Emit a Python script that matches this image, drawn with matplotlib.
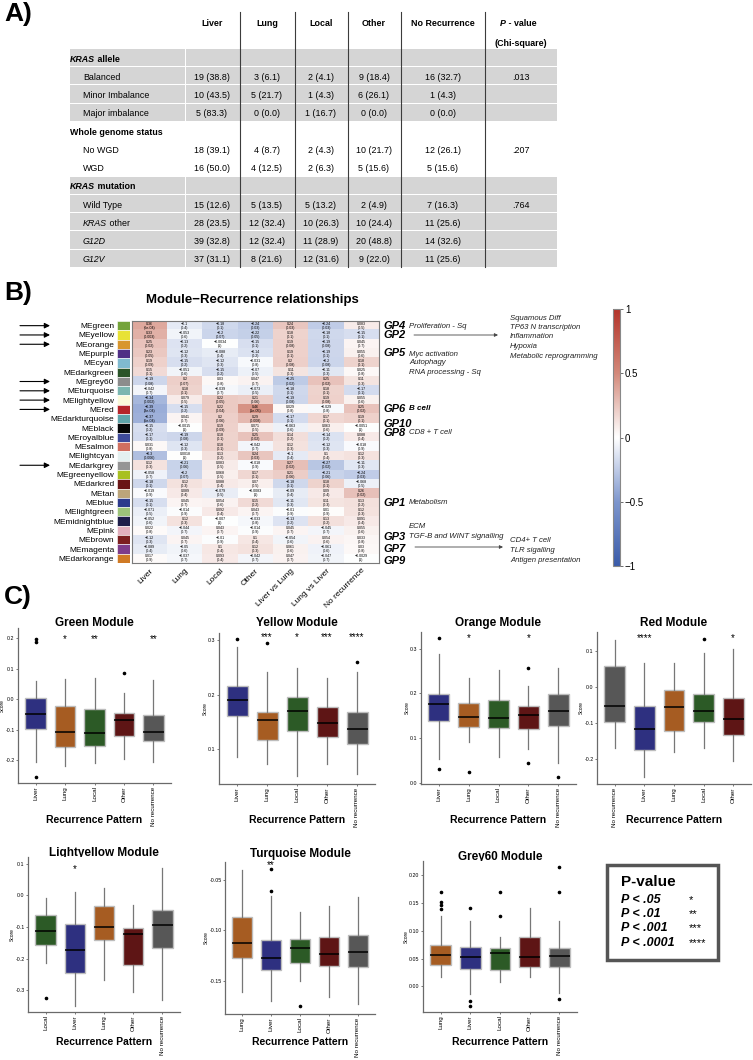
import numpy as np
import matplotlib
matplotlib.use('Agg')
import matplotlib.pyplot as plt
from matplotlib import transforms
from matplotlib.colors import LinearSegmentedColormap, Normalize
from matplotlib.cm import ScalarMappable
from matplotlib.patches import Rectangle

plt.rcParams['font.family'] = ['Liberation Sans', 'DejaVu Sans']

# ---------------- A) table ----------------
tab_cols = ['Liver', 'Lung', 'Local', 'Other', 'No Recurrence']
groups = ['KRAS allele', 'Whole genome status', 'KRAS mutation']
group_sizes = [3, 2, 4]
group_p = ['.013', '.207', '.764']
tab_rows = ['Balanced', 'Minor Imbalance', 'Major imbalance', 'No WGD', 'WGD',
            'Wild Type', 'KRAS other', 'G12D', 'G12V']
tab_n = [[19, 3, 2, 9, 16], [10, 5, 1, 6, 1], [5, 0, 1, 0, 0],
         [18, 4, 2, 10, 12], [16, 4, 2, 5, 5],
         [15, 5, 5, 2, 7], [28, 12, 10, 10, 11], [39, 12, 11, 20, 14], [37, 8, 12, 9, 11]]
tab_pct = [[38.8, 6.1, 4.1, 18.4, 32.7], [43.5, 21.7, 4.3, 26.1, 4.3], [83.3, 0.0, 16.7, 0.0, 0.0],
           [39.1, 8.7, 4.3, 21.7, 26.1], [50.0, 12.5, 6.3, 15.6, 15.6],
           [12.6, 13.5, 13.2, 4.9, 16.3], [23.5, 32.4, 26.3, 24.4, 25.6],
           [32.8, 32.4, 28.9, 48.8, 32.6], [31.1, 21.6, 31.6, 22.0, 25.6]]

# ---------------- B) module heatmap ----------------
modules = ['MEgreen', 'MEyellow', 'MEorange', 'MEpurple', 'MEcyan', 'MEdarkgreen', 'MEgrey60',
           'MEturquoise', 'MElightyellow', 'MEred', 'MEdarkturquoise', 'MEblack', 'MEroyalblue',
           'MEsalmon', 'MElightcyan', 'MEdarkgrey', 'MEgreenyellow', 'MEdarkred', 'MEtan', 'MEblue',
           'MElightgreen', 'MEmidnightblue', 'MEpink', 'MEbrown', 'MEmagenta', 'MEdarkorange']
module_colors = ['#74A33A', '#E8E236', '#D8962E', '#4F2E85', '#80BAD0', '#2A5428', '#8C8C8C',
                 '#7BB6B0', '#FBFADA', '#B5252A', '#5FA4AA', '#050505', '#3E4A9A',
                 '#D06F60', '#E4F0F0', '#959595', '#A8C020', '#6A1515', '#BCA57A', '#2C3A8C',
                 '#9DC47A', '#1E1E4A', '#E2B0BE', '#7C1E20', '#7E3C8A', '#D07A25']
hm_cols = ['Liver', 'Lung', 'Local', 'Other', 'Liver vs Lung', 'Lung vs Liver', 'No recurrence']
hm_cor = [
    [0.36, -0.1, -0.18, -0.24, 0.24, -0.24, 0.083],
    [0.33, -0.053, -0.2, -0.22, 0.18, -0.18, -0.15],
    [0.25, -0.13, -0.0034, -0.15, 0.19, -0.19, 0.045],
    [0.23, -0.12, -0.088, -0.14, 0.19, -0.19, 0.055],
    [0.19, -0.15, -0.12, -0.031, 0.2, -0.2, 0.18],
    [0.15, -0.051, -0.15, -0.07, 0.11, -0.11, 0.025],
    [-0.19, 0.2, 0.03, 0.047, -0.25, 0.25, 0.11],
    [-0.042, 0.18, -0.039, -0.073, -0.18, 0.18, -0.17],
    [-0.34, 0.079, 0.22, 0.21, -0.19, 0.19, 0.055],
    [-0.39, -0.15, 0.22, 0.46, 0.029, -0.029, 0.25],
    [-0.37, 0.041, 0.2, 0.29, -0.17, 0.17, 0.19],
    [-0.15, -0.0015, 0.19, 0.071, -0.063, 0.063, -0.0051],
    [-0.17, -0.19, 0.18, 0.25, 0.14, -0.14, 0.088],
    [0.031, -0.12, 0.18, -0.042, 0.12, -0.12, -0.018],
    [-0.3, 0.0018, 0.13, 0.24, -0.1, 0.1, 0.12],
    [0.12, -0.21, 0.083, -0.018, 0.27, -0.27, -0.11],
    [-0.058, -0.2, 0.068, 0.17, 0.21, -0.21, -0.24],
    [-0.18, 0.12, 0.088, 0.07, -0.18, 0.18, -0.068],
    [-0.019, 0.089, -0.079, -0.0083, -0.09, 0.09, 0.26],
    [-0.15, 0.045, 0.054, 0.15, -0.11, 0.11, 0.13],
    [-0.071, -0.014, 0.092, 0.043, -0.01, 0.01, 0.12],
    [-0.052, 0.12, -0.007, -0.033, -0.13, 0.13, 0.091],
    [0.022, -0.044, 0.043, -0.014, 0.045, -0.045, 0.055],
    [-0.12, 0.045, -0.01, 0.1, -0.054, 0.054, 0.033],
    [-0.089, -0.05, 0.1, 0.12, 0.061, -0.061, 0.03],
    [0.017, -0.037, 0.093, -0.042, 0.047, -0.047, -0.0029],
]
hm_p = [
    ['6e-04', '0.4', '0.1', '0.03', '0.03', '0.03', '0.5'],
    ['0.003', '0.6', '0.07', '0.05', '0.1', '0.1', '0.1'],
    ['0.02', '0.2', '1', '0.1', '0.08', '0.08', '0.7'],
    ['0.05', '0.3', '0.4', '0.2', '0.1', '0.1', '0.6'],
    ['0.09', '0.2', '0.3', '0.8', '0.08', '0.08', '0.1'],
    ['0.1', '0.6', '0.2', '0.5', '0.3', '0.3', '0.8'],
    ['0.08', '0.07', '0.8', '0.7', '0.02', '0.02', '0.3'],
    ['0.7', '0.1', '0.7', '0.5', '0.1', '0.1', '0.1'],
    ['0.002', '0.5', '0.05', '0.06', '0.08', '0.08', '0.6'],
    ['3e-04', '0.2', '0.04', '1e-05', '0.8', '0.8', '0.02'],
    ['5e-04', '0.7', '0.06', '0.008', '0.1', '0.1', '0.1'],
    ['0.2', '1', '0.09', '0.5', '0.6', '0.6', '1'],
    ['0.1', '0.08', '0.1', '0.02', '0.2', '0.2', '0.4'],
    ['0.8', '0.3', '0.1', '0.7', '0.3', '0.3', '0.9'],
    ['0.006', '1', '0.2', '0.03', '0.4', '0.4', '0.3'],
    ['0.3', '0.06', '0.5', '0.9', '0.02', '0.02', '0.3'],
    ['0.7', '0.07', '0.5', '0.1', '0.06', '0.06', '0.03'],
    ['0.1', '0.3', '0.4', '0.5', '0.1', '0.1', '0.5'],
    ['0.9', '0.4', '0.5', '1', '0.4', '0.4', '0.02'],
    ['0.1', '0.7', '0.6', '0.2', '0.3', '0.3', '0.2'],
    ['0.5', '0.9', '0.4', '0.7', '0.9', '0.9', '0.3'],
    ['0.6', '0.3', '1', '0.8', '0.2', '0.2', '0.4'],
    ['0.8', '0.7', '0.7', '0.9', '0.7', '0.7', '0.6'],
    ['0.3', '0.7', '0.9', '0.4', '0.6', '0.6', '0.8'],
    ['0.4', '0.6', '0.4', '0.3', '0.6', '0.6', '0.8'],
    ['0.9', '0.7', '0.4', '0.7', '0.7', '0.7', '1'],
]
arrow_rows = [0, 1, 2, 6, 7, 8, 9, 15]

# ---------------- C) box plots (read off the figure) ----------------
cat_colors = {'Liver': '#2E3080', 'Lung': '#A65C22', 'Local': '#2C5A26',
              'Other': '#5E1515', 'No recurrence': '#575757'}

green_order = ['Liver', 'Lung', 'Local', 'Other', 'No recurrence']
green_lo = [-0.205, -0.22, -0.21, -0.197, -0.207]
green_q1 = [-0.098, -0.158, -0.155, -0.12, -0.138]
green_med = [-0.05, -0.107, -0.112, -0.07, -0.108]
green_q3 = [0.003, -0.023, -0.032, -0.045, -0.053]
green_hi = [0.06, 0.065, 0.068, 0.02, 0.063]
green_out = [[0.197, 0.187, -0.255], [], [], [0.085], []]
green_sig = ['', '*', '**', '', '**']

yellow_order = ['Liver', 'Lung', 'Local', 'Other', 'No recurrence']
yellow_lo = [0.085, 0.072, 0.05, 0.073, 0.055]
yellow_q1 = [0.161, 0.117, 0.134, 0.123, 0.109]
yellow_med = [0.19, 0.154, 0.169, 0.148, 0.137]
yellow_q3 = [0.216, 0.168, 0.196, 0.178, 0.168]
yellow_hi = [0.287, 0.242, 0.248, 0.23, 0.242]
yellow_out = [[0.302], [0.295], [], [], [0.26]]
yellow_sig = ['', '***', '*', '***', '****']

orange_order = ['Liver', 'Lung', 'Local', 'Other', 'No recurrence']
orange_lo = [0.053, 0.09, 0.058, 0.075, 0.045]
orange_q1 = [0.139, 0.124, 0.123, 0.121, 0.127]
orange_med = [0.175, 0.146, 0.145, 0.152, 0.16]
orange_q3 = [0.199, 0.178, 0.186, 0.172, 0.199]
orange_hi = [0.287, 0.235, 0.253, 0.217, 0.256]
orange_out = [[0.323, 0.031], [0.024], [], [0.256, 0.043], [0.012]]
orange_sig = ['', '*', '', '*', '']

red_order = ['No recurrence', 'Liver', 'Lung', 'Local', 'Other']
red_lo = [-0.169, -0.25, -0.181, -0.168, -0.204]
red_q1 = [-0.097, -0.174, -0.122, -0.096, -0.134]
red_med = [-0.053, -0.117, -0.056, -0.067, -0.089]
red_q3 = [0.056, -0.052, -0.01, -0.02, -0.032]
red_hi = [0.128, 0.065, 0.065, 0.093, 0.104]
red_out = [[], [], [], [0.133], []]
red_sig = ['', '****', '', '', '*']

lightyellow_order = ['Local', 'Liver', 'Lung', 'Other', 'No recurrence']
lightyellow_lo = [-0.213, -0.349, -0.266, -0.305, -0.329]
lightyellow_q1 = [-0.158, -0.245, -0.14, -0.22, -0.166]
lightyellow_med = [-0.114, -0.171, -0.099, -0.121, -0.092]
lightyellow_q3 = [-0.062, -0.089, -0.034, -0.104, -0.045]
lightyellow_hi = [-0.009, 0.012, 0.024, -0.029, 0.087]
lightyellow_out = [[-0.323], [], [], [], []]
lightyellow_sig = ['', '*', '', '', '']

turquoise_order = ['Lung', 'Liver', 'Local', 'Other', 'No recurrence']
turquoise_lo = [-0.161, -0.17, -0.15, -0.166, -0.173]
turquoise_q1 = [-0.127, -0.139, -0.132, -0.135, -0.136]
turquoise_med = [-0.112, -0.127, -0.117, -0.123, -0.121]
turquoise_q3 = [-0.087, -0.109, -0.108, -0.107, -0.105]
turquoise_hi = [-0.04, -0.066, -0.082, -0.076, -0.067]
turquoise_out = [[], [-0.061, -0.039], [-0.175], [], []]
turquoise_sig = ['', '**', '', '', '']

grey60_order = ['Lung', 'Liver', 'Local', 'Other', 'No recurrence']
grey60_lo = [0.017, -0.013, 0.008, 0.017, -0.012]
grey60_q1 = [0.038, 0.032, 0.03, 0.035, 0.035]
grey60_med = [0.056, 0.052, 0.059, 0.053, 0.055]
grey60_q3 = [0.074, 0.07, 0.068, 0.088, 0.068]
grey60_hi = [0.126, 0.117, 0.089, 0.141, 0.117]
grey60_out = [[0.17, 0.152, 0.146, 0.139], [0.14, -0.027, -0.036], [0.17, 0.126], [], [0.215, 0.17, -0.022]]
grey60_sig = ['', '', '', '', '']

pval_labels = ['P < .05', 'P < .01', 'P < .001', 'P < .0001']
pval_stars = ['*', '**', '***', '****']

# ---------------- figure ----------------
W, H = 753, 1060


def box(l, t, r, b):
    # pixel box (top-left origin) -> figure fraction
    return [l / W, 1 - b / H, (r - l) / W, (b - t) / H]


fig = plt.figure(figsize=(W / 100, H / 100), dpi=100)
ov = fig.add_axes([0, 0, 1, 1])
ov.set_xlim(0, W)
ov.set_ylim(H, 0)
ov.axis('off')

BI = dict(weight='bold', style='italic')


def mixed(x, y, parts, size):
    t = ov.text(x, y, parts[0][0], fontsize=size, va='center', ha='left', **parts[0][1])
    for s, kw in parts[1:]:
        t = ov.annotate(s, xy=(1, 0.5), xycoords=t, fontsize=size, va='center', ha='left', **kw)
    return t


# panel letters
for lab, y in [('A)', 14), ('B)', 293), ('C)', 597)]:
    ov.text(4, y, lab, fontsize=19, weight='bold', va='center', ha='left')

# --- table ---
fs = 6.4
tab_y0, tab_dy = 59, 18.27
col_x = [212, 267, 321, 374, 443]
gray = '#D5D5D5'
for xv in [240, 295, 348, 401, 485]:
    ov.plot([xv, xv], [12, 267], color='#3c3c3c', lw=0.8, zorder=3)
for c, name in zip(col_x, tab_cols):
    ov.text(c, 23, name, fontsize=fs, weight='bold', ha='center', va='center')
mixed(500, 23, [('P', BI), (' - value', dict(weight='bold'))], fs)
ov.text(521, 43, '(Chi-square)', fontsize=fs, weight='bold', ha='center', va='center')

k = 0
r = 0
for g, gname in enumerate(groups):
    for j in range(group_sizes[g] + 1):
        y = tab_y0 + tab_dy * k
        if g != 1:
            ov.add_patch(Rectangle((70, y - 10.3), 115, tab_dy - 1, fc=gray, ec='none', zorder=1))
            ov.add_patch(Rectangle((186, y - 10.3), 371, tab_dy - 1, fc=gray, ec='none', zorder=1))
        if j == 0:
            if gname.startswith('KRAS'):
                mixed(70, y, [('KRAS', BI), (gname[4:], dict(weight='bold'))], fs)
            else:
                ov.text(70, y, gname, fontsize=fs, weight='bold', va='center')
        else:
            lab = tab_rows[r]
            if lab.startswith('KRAS'):
                mixed(83, y, [('KRAS', dict(style='italic')), (lab[4:], {})], fs)
            elif lab.startswith('G12'):
                ov.text(83, y, lab, fontsize=fs, style='italic', va='center')
            else:
                ov.text(83, y, lab, fontsize=fs, va='center')
            for c, n, p in zip(col_x, tab_n[r], tab_pct[r]):
                ov.text(c, y, f'{n} ({p:.1f})', fontsize=fs, ha='center', va='center')
            if j == 1:
                ov.text(521, y, group_p[g], fontsize=fs, ha='center', va='center')
            r += 1
        k += 1

# --- heatmap ---
ov.text(252, 300, 'Module\u2212Recurrence relationships', fontsize=9.5, weight='bold',
        ha='center', va='center')
cmap = LinearSegmentedColormap.from_list(
    'bwr_mod', [(0, '#3A5BA9'), (0.25, '#7D96CD'), (0.5, '#FFFFFF'), (0.75, '#D3897A'), (1, '#B3342A')])
cor = np.array(hm_cor)
ax_hm = fig.add_axes(box(132, 321, 379, 563))
ax_hm.imshow(cor, cmap=cmap, vmin=-1, vmax=1, aspect='auto', interpolation='nearest')
for i in range(len(modules)):
    for j in range(len(hm_cols)):
        s = '{:g}'.format(cor[i, j]).replace('-', '\u2212')
        ax_hm.text(j, i, s + '\n(' + hm_p[i][j] + ')', ha='center', va='center',
                   fontsize=2.6, linespacing=1.0)
ax_hm.set_yticks([])
ax_hm.set_xticks(np.arange(len(hm_cols)))
ax_hm.set_xticklabels(hm_cols, rotation=45, ha='right', rotation_mode='anchor', fontsize=6)
ax_hm.tick_params(length=0, pad=3)
for s in ax_hm.spines.values():
    s.set_color('#7a7a7a')
    s.set_linewidth(0.8)

ax_st = fig.add_axes(box(117, 321, 130, 563))
ax_st.barh(np.arange(len(modules)), 1, height=1, color=module_colors, edgecolor='white', linewidth=0.4)
ax_st.set_ylim(len(modules) - 0.5, -0.5)
ax_st.set_xlim(0, 1)
ax_st.set_yticks(np.arange(len(modules)))
ax_st.set_yticklabels(modules, fontsize=6)
ax_st.set_xticks([])
ax_st.tick_params(length=0, pad=2)
for s in ax_st.spines.values():
    s.set_visible(False)

trans = transforms.blended_transform_factory(ov.transData, ax_hm.transData)
for rr in arrow_rows:
    ov.annotate('', xy=(50, rr), xytext=(20, rr), xycoords=trans, textcoords=trans,
                arrowprops=dict(arrowstyle='-|>', color='black', lw=0.8, mutation_scale=8,
                                shrinkA=0, shrinkB=0))

ax_cb = fig.add_axes(box(613, 309, 620, 566))
cb = fig.colorbar(ScalarMappable(Normalize(-1, 1), cmap), cax=ax_cb, ticks=[-1, -0.5, 0, 0.5, 1])
cb.ax.set_yticklabels(['\u22121', '\u22120.5', '0', '0.5', '1'], fontsize=7)
cb.outline.set_edgecolor('#888888')
cb.outline.set_linewidth(0.8)
cb.ax.tick_params(length=2, width=0.6, color='#555555', pad=1.5)

# gene programme annotations
for lab, y in [('GP4', 326), ('GP2', 335), ('GP5', 353), ('GP6', 409), ('GP10', 424),
               ('GP8', 433), ('GP1', 503), ('GP3', 537), ('GP7', 549), ('GP9', 561)]:
    ov.text(383, y, lab, fontsize=8, va='center', **BI)
for lab, x, y in [('Proliferation - Sq', 409, 326), ('Myc activation', 409, 354),
                  ('Autophagy', 409, 363), ('RNA processing - Sq', 409, 372),
                  ('CD8 + T cell', 409, 433), ('Metabolism', 409, 503), ('ECM', 409, 527),
                  ('TGF-B and WINT signalling', 409, 537), ('Squamous Diff', 510, 318),
                  ('TP63 N transcription', 510, 327.5), ('Inflammation', 510, 337),
                  ('Hypoxia', 510, 346.5), ('Metabolic reprogramming', 510, 356),
                  ('CD4+ T cell', 510, 541), ('TLR sigalling', 510, 550),
                  ('Antigen presentation', 510, 560)]:
    ov.text(x, y, lab, fontsize=5.6, style='italic', va='center', color='#222222')
ov.text(409, 409, 'B cell', fontsize=5.8, va='center', **BI)
for x0, x1, y in [(414, 498, 335), (415, 503, 547)]:
    ov.annotate('', xy=(x1, y), xytext=(x0, y),
                arrowprops=dict(arrowstyle='-|>', color='#444444', lw=0.6, mutation_scale=5,
                                shrinkA=0, shrinkB=0))


# --- box plots ---
def draw_panel(px, title, order, lo, q1, med, q3, hi, out, sig, star_y, ylim, yticks, fmt,
               title_y, xlab_y):
    l, t, rr, b = px
    ax = fig.add_axes(box(l, t, rr, b))
    pos = np.arange(1, len(order) + 1)
    stats = [dict(whislo=lo[i], q1=q1[i], med=med[i], q3=q3[i], whishi=hi[i], fliers=out[i])
             for i in range(len(order))]
    bp = ax.bxp(stats, positions=pos, widths=0.7, patch_artist=True, showcaps=False,
                boxprops=dict(edgecolor='#BDBDBD', linewidth=1.0),
                whiskerprops=dict(color='#777777', linewidth=0.9),
                medianprops=dict(color='black', linewidth=1.1),
                flierprops=dict(marker='o', markersize=1.6, markerfacecolor='black',
                                markeredgecolor='black'))
    for patch, cat in zip(bp['boxes'], order):
        patch.set_facecolor(cat_colors[cat])
    for x, s in zip(pos, sig):
        if s:
            ax.text(x, star_y, s, ha='center', va='center', fontsize=7, clip_on=False)
    ax.set_xlim(0.4, 5.6)
    ax.set_ylim(*ylim)
    ax.set_yticks(yticks)
    ax.set_yticklabels([fmt.format(v) for v in yticks])
    ax.set_xticks(pos)
    ax.set_xticklabels(order, rotation=90)
    ax.tick_params(axis='y', labelsize=3.8, length=1.5, width=0.5, color='#444444', pad=1)
    ax.tick_params(axis='x', labelsize=4.5, length=1.5, width=0.5, color='#444444', pad=1)
    ax.set_ylabel('Score', fontsize=3.5, labelpad=0.5)
    for side in ['top', 'right']:
        ax.spines[side].set_visible(False)
    for side in ['left', 'bottom']:
        ax.spines[side].set_color('#6a6a6a')
        ax.spines[side].set_linewidth(0.9)
    ov.text((l + rr) / 2, title_y, title, fontsize=8.5, weight='bold', ha='center', va='center')
    ov.text((l + rr) / 2, xlab_y, 'Recurrence Pattern', fontsize=7.5, weight='bold',
            ha='center', va='center')


draw_panel((18, 628, 171, 783), 'Green Module', green_order, green_lo, green_q1, green_med,
           green_q3, green_hi, green_out, green_sig, 0.197, (-0.275, 0.233),
           [-0.2, -0.1, 0.0, 0.1, 0.2], '{:.1f}', 623, 820)
draw_panel((219, 633, 375, 784), 'Yellow Module', yellow_order, yellow_lo, yellow_q1, yellow_med,
           yellow_q3, yellow_hi, yellow_out, yellow_sig, 0.305, (0.036, 0.313),
           [0.1, 0.2, 0.3], '{:.1f}', 623, 820)
draw_panel((421, 632, 576, 784), 'Orange Module', orange_order, orange_lo, orange_q1, orange_med,
           orange_q3, orange_hi, orange_out, orange_sig, 0.323, (-0.003, 0.337),
           [0.0, 0.1, 0.2, 0.3], '{:.1f}', 623, 820)
draw_panel((597, 632, 751, 784), 'Red Module', red_order, red_lo, red_q1, red_med,
           red_q3, red_hi, red_out, red_sig, 0.134, (-0.268, 0.151),
           [-0.2, -0.1, 0.0, 0.1], '{:.1f}', 623, 820)
draw_panel((28, 857, 180, 1012), 'Lightyellow Module', lightyellow_order, lightyellow_lo,
           lightyellow_q1, lightyellow_med, lightyellow_q3, lightyellow_hi, lightyellow_out,
           lightyellow_sig, 0.084, (-0.368, 0.121), [-0.3, -0.2, -0.1, 0.0, 0.1], '{:.1f}',
           853, 1042)
draw_panel((225, 862, 375, 1014), 'Turquoise Module', turquoise_order, turquoise_lo,
           turquoise_q1, turquoise_med, turquoise_q3, turquoise_hi, turquoise_out,
           turquoise_sig, -0.035, (-0.183, -0.032), [-0.15, -0.10, -0.05], '{:.2f}', 854, 1042)
draw_panel((423, 861, 577, 1012), 'Grey60 Module', grey60_order, grey60_lo, grey60_q1,
           grey60_med, grey60_q3, grey60_hi, grey60_out, grey60_sig, 0.2, (-0.046, 0.225),
           [0.0, 0.05, 0.10, 0.15, 0.20], '{:.2f}', 857, 1042)

# P-value key
ov.add_patch(Rectangle((607, 865), 111, 95, fill=False, ec='#555555', lw=2.5))
ov.text(621, 882, 'P-value', fontsize=11, weight='bold', va='center')
for lab, st, y in zip(pval_labels, pval_stars, [900, 914, 928, 943]):
    ov.text(621, y, lab, fontsize=9, va='center', **BI)
    ov.text(689, y, st, fontsize=8, va='center')

fig.savefig('out.png', dpi=100)
